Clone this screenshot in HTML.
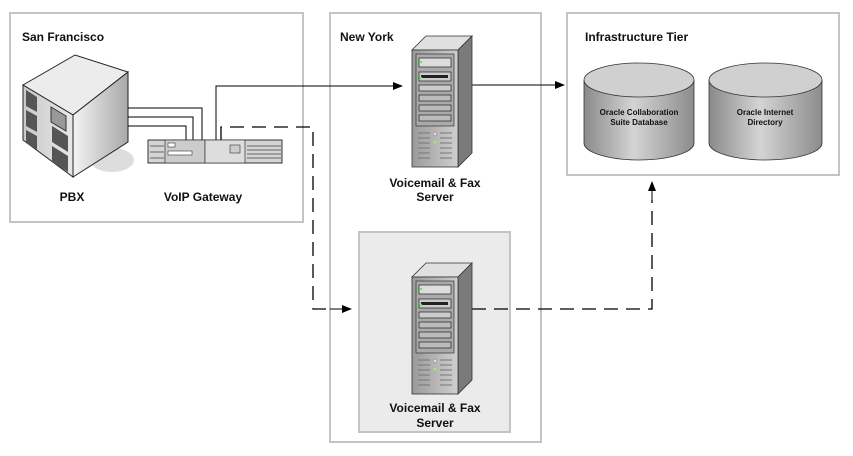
<!DOCTYPE html>
<html><head><style>body{margin:0;background:#fff}svg{display:block}text{font-family:"Liberation Sans",Arial,sans-serif;font-weight:bold;fill:#111}</style></head>
<body>
<svg width="853" height="456" viewBox="0 0 853 456">
<defs>
<linearGradient id="cyl" x1="0" x2="1"><stop offset="0" stop-color="#8a8a8a"/><stop offset="0.45" stop-color="#d4d4d4"/><stop offset="1" stop-color="#8c8c8c"/></linearGradient>
<linearGradient id="srv" x1="0" x2="1"><stop offset="0" stop-color="#9a9a9a"/><stop offset="1" stop-color="#cfcfcf"/></linearGradient>
<linearGradient id="rf" x1="0" x2="1"><stop offset="0" stop-color="#f4f4f4"/><stop offset="1" stop-color="#a8a8a8"/></linearGradient>
<linearGradient id="lf" x1="0" x2="1"><stop offset="0" stop-color="#c8c8c8"/><stop offset="1" stop-color="#e8e8e8"/></linearGradient>
<marker id="ar" markerWidth="10" markerHeight="8" refX="9" refY="4" orient="auto" markerUnits="userSpaceOnUse"><path d="M0,0 L10,4 L0,8 z" fill="#000"/></marker>
<g id="server">
<polygon points="0,0 46,0 60,-14 14,-14" fill="#e0e0e0" stroke="#333" stroke-width="0.8"/>
<polygon points="46,0 60,-14 60,103 46,117" fill="#7a7a7a" stroke="#333" stroke-width="0.8"/>
<rect x="0" y="0" width="46" height="117" fill="url(#srv)" stroke="#333" stroke-width="0.8"/>
<rect x="4" y="4" width="38" height="72" fill="#aaa" stroke="#333" stroke-width="0.7"/>
<rect x="7" y="8" width="32" height="9" fill="#ddd" stroke="#222" stroke-width="0.7"/>
<rect x="7" y="22" width="32" height="9" fill="#ccc" stroke="#222" stroke-width="0.7"/><rect x="9" y="25" width="27" height="3" fill="#222"/>
<rect x="7" y="35" width="32" height="6" fill="#ccc" stroke="#222" stroke-width="0.7"/>
<rect x="7" y="45" width="32" height="6" fill="#bbb" stroke="#222" stroke-width="0.7"/>
<rect x="7" y="55" width="32" height="6" fill="#bbb" stroke="#222" stroke-width="0.7"/>
<rect x="7" y="65" width="32" height="6" fill="#bbb" stroke="#222" stroke-width="0.7"/>
<circle cx="9" cy="12" r="1.2" fill="#4f4"/><circle cx="9" cy="28" r="1.2" fill="#4f4"/>
<g stroke="#777" stroke-width="1"><path d="M6,83h12M6,88h12M6,93h12M6,98h12M6,103h12M6,108h12M28,83h12M28,88h12M28,93h12M28,98h12M28,103h12M28,108h12"/></g>
<circle cx="23" cy="84" r="2" fill="#ddd" stroke="#777" stroke-width="0.5"/><circle cx="23" cy="92" r="1.3" fill="#9f3"/>
</g>
</defs>
<g fill="none" stroke="#c4c4c4" stroke-width="2">
<rect x="10" y="13" width="293" height="209"/>
<rect x="330" y="13" width="211" height="429"/>
<rect x="567" y="13" width="272" height="162"/>
</g>
<rect x="359" y="232" width="151" height="200" fill="#ebebeb" stroke="#c4c4c4" stroke-width="2"/>
<text x="22" y="41" font-size="12">San Francisco</text>
<text x="340" y="41" font-size="12">New York</text>
<text x="585" y="41" font-size="12">Infrastructure Tier</text>
<!-- PBX -->
<ellipse cx="112" cy="160" rx="22" ry="12" fill="#ddd"/>
<polygon points="23,85 75,55 128,72 73,115" fill="#ececec" stroke="#222" stroke-width="1"/>
<polygon points="23,85 73,115 73,177 23,140" fill="url(#lf)" stroke="#222" stroke-width="1"/>
<polygon points="73,115 128,72 128,142 73,177" fill="url(#rf)" stroke="#222" stroke-width="1"/>
<g fill="#555"><polygon points="26,90 37,97 37,112 26,106"/><polygon points="26,110 37,116 37,132 26,126"/><polygon points="26,130 37,136 37,150 26,143"/>
<polygon points="52,126 68,136 68,152 52,142"/><polygon points="52,146 68,156 68,172 52,162"/></g>
<polygon points="51,107 66,116 66,131 51,122" fill="#999" stroke="#333"/>
<text x="72" y="201" font-size="12" text-anchor="middle">PBX</text>
<text x="203" y="201" font-size="12" text-anchor="middle">VoIP Gateway</text>
<!-- lines -->
<g fill="none" stroke="#000" stroke-width="1">
<path d="M128,108H202V140M128,117H193V140M128,126H186V140"/>
<path d="M216,140V86H402" marker-end="url(#ar)"/>
<path d="M472,85H564" marker-end="url(#ar)"/>
</g>
<g fill="none" stroke="#000" stroke-width="1.3" stroke-dasharray="14,8">
<path d="M221,140V127H313V309H330"/>
<path d="M472,309H652V200"/>
</g>
<path d="M330,309H351" stroke="#000" marker-end="url(#ar)"/>
<path d="M652,200V182" stroke="#000" marker-end="url(#ar)"/>
<!-- gateway -->
<rect x="148" y="140" width="134" height="23" fill="#d4d4d4" stroke="#333"/>
<rect x="165" y="140" width="40" height="23" fill="#ccc" stroke="#333" stroke-width="0.7"/>
<rect x="205" y="140" width="40" height="23" fill="#ddd" stroke="#333" stroke-width="0.7"/>
<g stroke="#666" stroke-width="1"><path d="M150,146h14M150,152h14M150,158h14M247,146h34M247,150h34M247,154h34M247,158h34"/></g>
<rect x="168" y="143" width="7" height="4" fill="#fff" stroke="#333" stroke-width="0.6"/>
<rect x="168" y="151" width="24" height="4" fill="#fff" stroke="#333" stroke-width="0.6"/>
<rect x="230" y="145" width="10" height="8" fill="#ccc" stroke="#333" stroke-width="0.6"/>
<!-- servers -->
<use href="#server" x="412" y="50"/>
<use href="#server" x="412" y="277"/>
<text x="435" y="187" font-size="12" text-anchor="middle">Voicemail &amp; Fax</text>
<text x="435" y="201" font-size="12" text-anchor="middle">Server</text>
<text x="435" y="412" font-size="12" text-anchor="middle">Voicemail &amp; Fax</text>
<text x="435" y="427" font-size="12" text-anchor="middle">Server</text>
<!-- cylinders -->
<g stroke="#333" stroke-width="0.8">
<path d="M584,80V143A55,17 0 0 0 694,143V80" fill="url(#cyl)"/>
<ellipse cx="639" cy="80" rx="55" ry="17" fill="#d0d0d0"/>
<path d="M709,80V143A56.5,17 0 0 0 822,143V80" fill="url(#cyl)"/>
<ellipse cx="765.5" cy="80" rx="56.5" ry="17" fill="#d0d0d0"/>
</g>
<text x="639" y="115" font-size="8" text-anchor="middle">Oracle Collaboration</text>
<text x="639" y="125" font-size="8" text-anchor="middle">Suite Database</text>
<text x="765" y="115" font-size="8" text-anchor="middle">Oracle Internet</text>
<text x="765" y="125" font-size="8" text-anchor="middle">Directory</text>
</svg>
</body></html>
